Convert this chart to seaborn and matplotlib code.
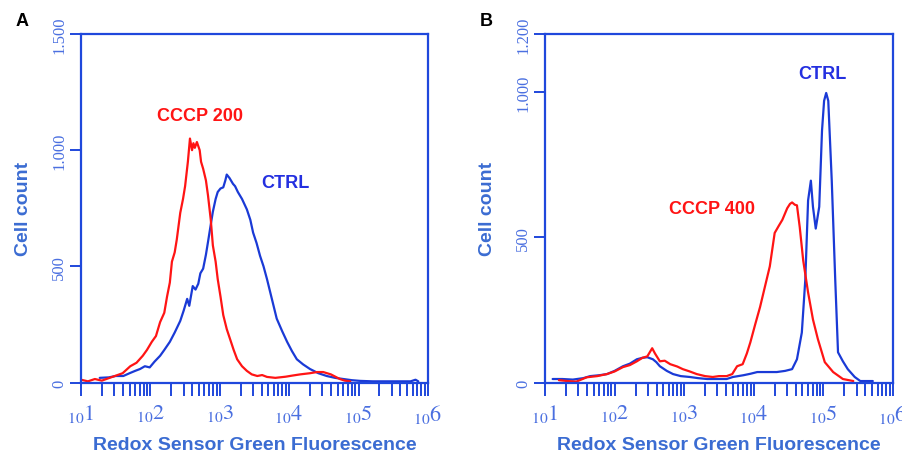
import numpy as np
import pandas as pd
import seaborn as sns
import matplotlib.pyplot as plt

# Panel A - log10(fluorescence) and cell counts
a_red_lg = [1.00, 1.10, 1.20, 1.30, 1.46, 1.60, 1.71, 1.80, 1.89, 1.95, 2.02, 2.08, 2.14, 2.20, 2.24, 2.28,
            2.31, 2.35, 2.38, 2.43, 2.47, 2.50, 2.54, 2.57, 2.60, 2.62, 2.64, 2.67, 2.71, 2.73, 2.76, 2.80,
            2.83, 2.87, 2.90, 2.94, 2.97, 3.01, 3.05, 3.10, 3.15, 3.20, 3.25, 3.32, 3.39, 3.46, 3.54, 3.61,
            3.68, 3.80, 3.95, 4.05, 4.16, 4.30, 4.40, 4.49, 4.60, 4.73, 4.80, 4.88]
a_red_cnt = [12, 5, 15, 8, 25, 40, 70, 85, 115, 140, 175, 200, 260, 300, 370, 430,
             520, 560, 615, 730, 790, 845, 950, 1050, 1000, 1030, 1010, 1035, 1000, 950, 920, 870,
             805, 700, 590, 520, 445, 370, 290, 230, 185, 140, 100, 70, 50, 35, 28, 32,
             24, 20, 25, 30, 35, 40, 45, 45, 35, 15, 8, 5]
a_blue_lg = [1.27, 1.40, 1.50, 1.61, 1.70, 1.78, 1.85, 1.92, 1.99, 2.06, 2.14, 2.20, 2.28, 2.35, 2.43, 2.48,
             2.53, 2.56, 2.61, 2.65, 2.69, 2.72, 2.76, 2.80, 2.83, 2.87, 2.90, 2.94, 2.97, 3.01, 3.05, 3.08,
             3.10, 3.14, 3.19, 3.22, 3.26, 3.32, 3.39, 3.44, 3.48, 3.53, 3.58, 3.63, 3.68, 3.75, 3.82, 3.90,
             3.97, 4.04, 4.11, 4.20, 4.30, 4.42, 4.54, 4.66, 4.78, 4.90, 5.02, 5.20, 5.50, 5.75, 5.82, 5.86]
a_blue_cnt = [20, 22, 28, 28, 40, 50, 58, 70, 65, 90, 115, 140, 175, 215, 265, 310,
              360, 330, 415, 400, 425, 470, 490, 550, 605, 680, 735, 790, 820, 835, 840, 870,
              895, 880, 855, 845, 820, 790, 745, 700, 645, 600, 545, 500, 445, 360, 275, 220,
              175, 135, 100, 78, 58, 40, 28, 20, 15, 10, 7, 5, 5, 5, 12, 5]

# Panel B
b_red_lg = [1.20, 1.32, 1.45, 1.60, 1.75, 1.89, 2.00, 2.12, 2.22, 2.32, 2.40, 2.47, 2.54, 2.58, 2.65, 2.72,
            2.80, 2.90, 2.98, 3.08, 3.18, 3.30, 3.41, 3.50, 3.61, 3.69, 3.76, 3.84, 3.90, 3.95, 4.02, 4.09,
            4.16, 4.23, 4.30, 4.36, 4.41, 4.48, 4.52, 4.55, 4.59, 4.62, 4.66, 4.71, 4.78, 4.85, 4.92, 5.02,
            5.14, 5.28, 5.43]
b_red_cnt = [8, 5, 3, 18, 22, 29, 38, 53, 60, 73, 85, 90, 118, 100, 73, 75,
             63, 55, 46, 38, 29, 22, 19, 22, 22, 29, 56, 63, 100, 138, 200, 260,
             330, 400, 515, 540, 560, 600, 615, 620, 612, 610, 535, 420, 310, 217, 150, 70,
             36, 12, 5]
b_blue_lg = [1.11, 1.25, 1.40, 1.55, 1.65, 1.78, 1.89, 2.00, 2.12, 2.22, 2.32, 2.40, 2.47, 2.55, 2.60, 2.65,
             2.75, 2.84, 2.95, 3.08, 3.20, 3.33, 3.50, 3.61, 3.70, 3.85, 3.95, 4.05, 4.20, 4.33, 4.45, 4.55,
             4.62, 4.69, 4.74, 4.78, 4.82, 4.85, 4.89, 4.94, 4.98, 5.01, 5.04, 5.07, 5.12, 5.17, 5.21, 5.28,
             5.35, 5.45, 5.53, 5.71]
b_blue_cnt = [12, 12, 10, 15, 22, 25, 29, 40, 56, 65, 80, 85, 87, 80, 70, 56,
              40, 29, 22, 19, 15, 12, 12, 12, 19, 25, 30, 36, 36, 36, 40, 46,
              80, 172, 354, 627, 695, 605, 530, 605, 867, 970, 997, 970, 695, 354, 104, 73,
              46, 19, 5, 5]

decades = [1, 2, 3, 4, 5, 6]
RED = "#ff1414"
BLUE = "#1a3ad6"
SPINE = "#1f48dc"
TICKTXT = "#4a6fe0"
LABEL = "#3b6cd2"

sns.set_style("white")
plt.rcParams["font.family"] = ["Liberation Sans", "DejaVu Sans"]
plt.rcParams["mathtext.fontset"] = "stix"

fig = plt.figure(figsize=(9.03, 4.56), dpi=100)
axA = fig.add_axes([81 / 903, 1 - 383.5 / 456, (428 - 81) / 903, (383.5 - 35) / 456])
axB = fig.add_axes([545 / 903, 1 - 383.5 / 456, (893 - 545) / 903, (383.5 - 35) / 456])


def make_df(rlg, rcnt, blg, bcnt, rname):
    d1 = pd.DataFrame({"x": 10 ** np.array(rlg), "y": rcnt, "s": rname})
    d2 = pd.DataFrame({"x": 10 ** np.array(blg), "y": bcnt, "s": "CTRL"})
    return pd.concat([d1, d2], ignore_index=True)


panels = [
    (axA, make_df(a_red_lg, a_red_cnt, a_blue_lg, a_blue_cnt, "CCCP 200"), "CCCP 200", 1500,
     [0, 500, 1000, 1500], ["0", "500", "1.000", "1.500"], "A",
     [(10 ** 2.71, 1150, "CCCP 200", RED), (10 ** 3.95, 860, "CTRL", "#2430e0")]),
    (axB, make_df(b_red_lg, b_red_cnt, b_blue_lg, b_blue_cnt, "CCCP 400"), "CCCP 400", 1200,
     [0, 500, 1000, 1200], ["0", "500", "1.000", "1.200"], "B",
     [(10 ** 3.40, 600, "CCCP 400", RED), (10 ** 4.99, 1065, "CTRL", "#2430e0")]),
]

for ax, df, rname, ymax, yt, ytl, letter, notes in panels:
    sns.lineplot(data=df, x="x", y="y", hue="s", palette={rname: RED, "CTRL": BLUE},
                 hue_order=["CTRL", rname], estimator=None, sort=False, linewidth=1.6,
                 legend=False, ax=ax)
    ax.set_xscale("log")
    ax.set_xlim(10, 1e6)
    ax.set_ylim(0, ymax)
    for sp in ax.spines.values():
        sp.set_color(SPINE)
        sp.set_linewidth(1.6)
    ax.set_yticks(yt)
    ax.set_yticklabels(ytl)
    ax.set_xticks([10 ** k for k in decades])
    ax.set_xticklabels([r"$_{10}%d$" % k for k in decades])
    ax.xaxis.set_minor_locator(plt.matplotlib.ticker.LogLocator(base=10, subs=np.arange(2, 10)))
    ax.xaxis.set_minor_formatter(plt.NullFormatter())
    ax.tick_params(axis="y", direction="out", length=8, width=1.4, color=SPINE, pad=2,
                   labelsize=12, labelcolor=TICKTXT, left=True)
    ax.tick_params(axis="x", which="both", direction="out", length=9, width=1.4, color=SPINE,
                   pad=5, labelsize=16, labelcolor=TICKTXT, bottom=True)
    for t in ax.get_yticklabels():
        t.set_rotation(90)
        t.set_va("center")
        t.set_family(["Liberation Serif", "DejaVu Serif"])
    ax.set_ylabel("Cell count", fontsize=14, fontweight="bold", color=LABEL, labelpad=14)
    ax.set_xlabel("Redox Sensor Green Fluorescence", fontsize=14, fontweight="bold",
                  color=LABEL, labelpad=8)
    for x, y, txt, c in notes:
        ax.text(x, y, txt, color=c, fontsize=13, fontweight="bold", ha="center", va="center")
    ax.text(-0.17, 1.04, letter, transform=ax.transAxes, fontsize=13, fontweight="bold",
            color="black", ha="center", va="center")

fig.savefig("out.png", dpi=100, facecolor="white")
